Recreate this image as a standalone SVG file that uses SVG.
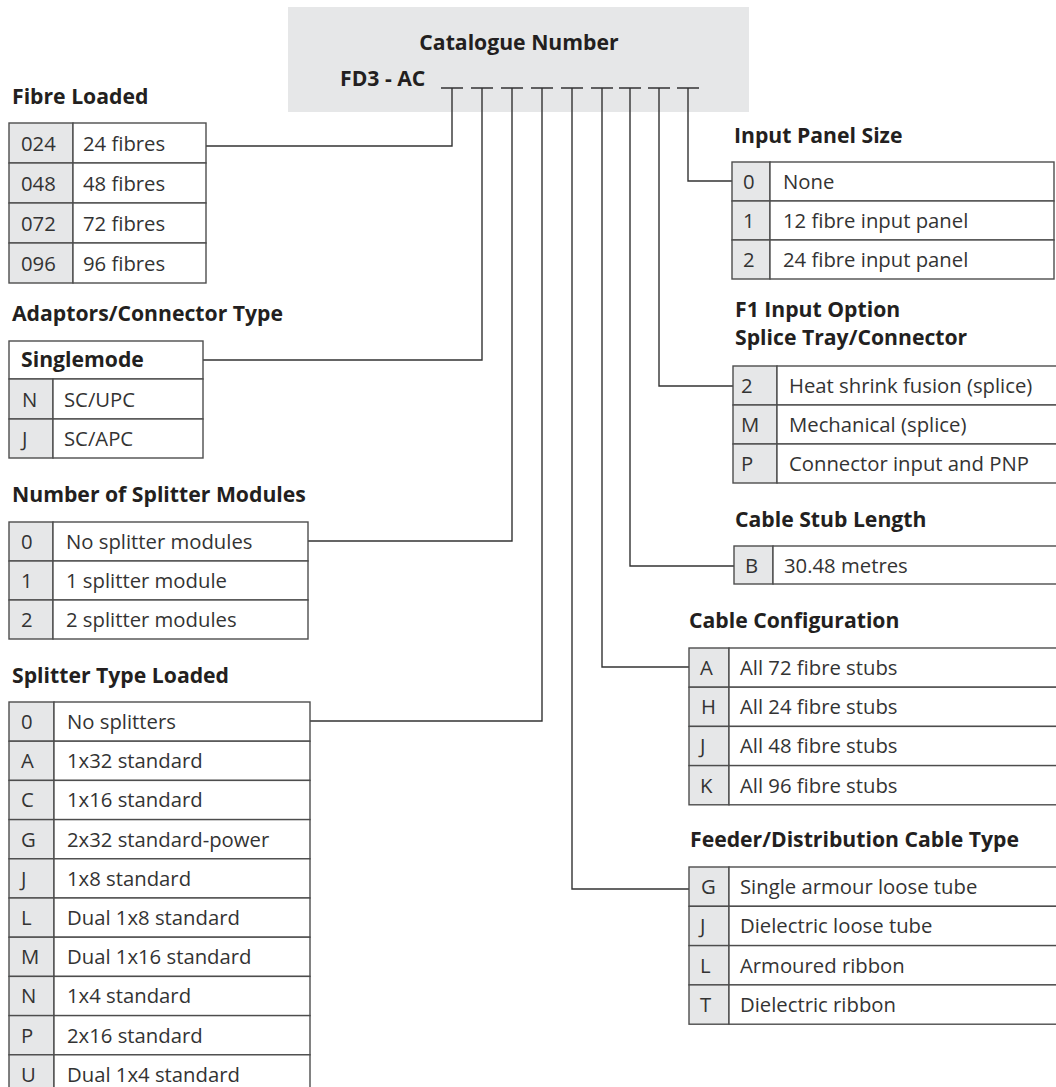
<svg xmlns="http://www.w3.org/2000/svg" width="1056" height="1087" viewBox="0 0 1056 1087">
<style>
.c{fill:#e6e7e8;stroke:#4d4d4d;stroke-width:1.4}
.w{fill:#ffffff;stroke:#4d4d4d;stroke-width:1.4}
.h{font-family:"Open Sans","Noto Sans","Liberation Sans",sans-serif;font-weight:bold;font-size:21.2px;fill:#231f20}
.t{font-family:"Open Sans","Noto Sans","Liberation Sans",sans-serif;font-size:20.3px;fill:#333333}
.ln{fill:none;stroke:#333333;stroke-width:1.4}
</style>
<rect width="1056" height="1087" fill="#ffffff"/>

<g id="catalogue">
<rect x="288" y="7" width="461" height="105" fill="#e6e7e8"/>
<text class="h" x="519" y="50" text-anchor="middle">Catalogue Number</text>
<text class="h" x="340" y="86">FD3 - AC</text>
<g class="ln">
<path d="M441,88H463M471,88H493M501,88H523M531,88H553M561,88H583M591,88H613M619,88H641M648,88H670M677,88H699"/>
</g>
</g>

<g id="connectors" class="ln">
<path d="M452,88V146H206"/>
<path d="M482,88V360H203"/>
<path d="M512,88V541H308"/>
<path d="M542,88V721H310"/>
<path d="M572,88V889H689"/>
<path d="M602,88V667H689"/>
<path d="M630,88V566H734"/>
<path d="M659,88V386H733"/>
<path d="M688,88V181H732"/>
</g>

<g id="fibre-loaded">
<text class="h" x="12" y="104">Fibre Loaded</text>
<rect class="c" x="9" y="123" width="64" height="40"/><rect class="w" x="73" y="123" width="133" height="40"/>
<rect class="c" x="9" y="163" width="64" height="40"/><rect class="w" x="73" y="163" width="133" height="40"/>
<rect class="c" x="9" y="203" width="64" height="40"/><rect class="w" x="73" y="203" width="133" height="40"/>
<rect class="c" x="9" y="243" width="64" height="40"/><rect class="w" x="73" y="243" width="133" height="40"/>
<text class="t" x="21" y="151">024</text><text class="t" x="83" y="151">24 fibres</text>
<text class="t" x="21" y="191">048</text><text class="t" x="83" y="191">48 fibres</text>
<text class="t" x="21" y="231">072</text><text class="t" x="83" y="231">72 fibres</text>
<text class="t" x="21" y="271">096</text><text class="t" x="83" y="271">96 fibres</text>
</g>

<g id="adaptors">
<text class="h" x="12" y="321">Adaptors/Connector Type</text>
<rect class="w" x="9" y="341" width="194" height="38"/>
<text class="h" x="21" y="367">Singlemode</text>
<rect class="c" x="9" y="379" width="44" height="40"/><rect class="w" x="53" y="379" width="150" height="40"/>
<rect class="c" x="9" y="419" width="44" height="39"/><rect class="w" x="53" y="419" width="150" height="39"/>
<text class="t" x="22" y="407">N</text><text class="t" x="64" y="407">SC/UPC</text>
<text class="t" x="22" y="446">J</text><text class="t" x="64" y="446">SC/APC</text>
</g>

<g id="splitter-modules">
<text class="h" x="12" y="502">Number of Splitter Modules</text>
<rect class="c" x="9" y="522" width="44" height="39"/><rect class="w" x="53" y="522" width="255" height="39"/>
<rect class="c" x="9" y="561" width="44" height="39"/><rect class="w" x="53" y="561" width="255" height="39"/>
<rect class="c" x="9" y="600" width="44" height="39"/><rect class="w" x="53" y="600" width="255" height="39"/>
<text class="t" x="21" y="549">0</text><text class="t" x="66" y="549">No splitter modules</text>
<text class="t" x="21" y="588">1</text><text class="t" x="66" y="588">1 splitter module</text>
<text class="t" x="21" y="627">2</text><text class="t" x="66" y="627">2 splitter modules</text>
</g>

<g id="splitter-type">
<text class="h" x="12" y="683">Splitter Type Loaded</text>
<rect class="c" x="9" y="702" width="45" height="39.2"/><rect class="w" x="54" y="702" width="256" height="39.2"/>
<rect class="c" x="9" y="741.2" width="45" height="39.2"/><rect class="w" x="54" y="741.2" width="256" height="39.2"/>
<rect class="c" x="9" y="780.4" width="45" height="39.2"/><rect class="w" x="54" y="780.4" width="256" height="39.2"/>
<rect class="c" x="9" y="819.6" width="45" height="39.2"/><rect class="w" x="54" y="819.6" width="256" height="39.2"/>
<rect class="c" x="9" y="858.8" width="45" height="39.2"/><rect class="w" x="54" y="858.8" width="256" height="39.2"/>
<rect class="c" x="9" y="898" width="45" height="39.2"/><rect class="w" x="54" y="898" width="256" height="39.2"/>
<rect class="c" x="9" y="937.2" width="45" height="39.2"/><rect class="w" x="54" y="937.2" width="256" height="39.2"/>
<rect class="c" x="9" y="976.4" width="45" height="39.2"/><rect class="w" x="54" y="976.4" width="256" height="39.2"/>
<rect class="c" x="9" y="1015.6" width="45" height="39.2"/><rect class="w" x="54" y="1015.6" width="256" height="39.2"/>
<rect class="c" x="9" y="1054.8" width="45" height="39.2"/><rect class="w" x="54" y="1054.8" width="256" height="39.2"/>
<text class="t" x="21" y="729">0</text><text class="t" x="67" y="729">No splitters</text>
<text class="t" x="21" y="768.2">A</text><text class="t" x="67" y="768.2">1x32 standard</text>
<text class="t" x="21" y="807.4">C</text><text class="t" x="67" y="807.4">1x16 standard</text>
<text class="t" x="21" y="846.6">G</text><text class="t" x="67" y="846.6">2x32 standard-power</text>
<text class="t" x="21" y="885.8">J</text><text class="t" x="67" y="885.8">1x8 standard</text>
<text class="t" x="21" y="925">L</text><text class="t" x="67" y="925">Dual 1x8 standard</text>
<text class="t" x="21" y="964.2">M</text><text class="t" x="67" y="964.2">Dual 1x16 standard</text>
<text class="t" x="21" y="1003.4">N</text><text class="t" x="67" y="1003.4">1x4 standard</text>
<text class="t" x="21" y="1042.6">P</text><text class="t" x="67" y="1042.6">2x16 standard</text>
<text class="t" x="21" y="1081.8">U</text><text class="t" x="67" y="1081.8">Dual 1x4 standard</text>
</g>

<g id="input-panel">
<text class="h" x="734" y="143">Input Panel Size</text>
<rect class="c" x="732" y="162" width="38" height="39"/><rect class="w" x="770" y="162" width="284" height="39"/>
<rect class="c" x="732" y="201" width="38" height="39"/><rect class="w" x="770" y="201" width="284" height="39"/>
<rect class="c" x="732" y="240" width="38" height="39"/><rect class="w" x="770" y="240" width="284" height="39"/>
<text class="t" x="743" y="189">0</text><text class="t" x="783" y="189">None</text>
<text class="t" x="743" y="228">1</text><text class="t" x="783" y="228">12 fibre input panel</text>
<text class="t" x="743" y="267">2</text><text class="t" x="783" y="267">24 fibre input panel</text>
</g>

<g id="f1-input">
<text class="h" x="735" y="317">F1 Input Option</text>
<text class="h" x="735" y="345">Splice Tray/Connector</text>
<rect class="c" x="733" y="366" width="44" height="39"/><rect class="w" x="777" y="366" width="293" height="39"/>
<rect class="c" x="733" y="405" width="44" height="39"/><rect class="w" x="777" y="405" width="293" height="39"/>
<rect class="c" x="733" y="444" width="44" height="39"/><rect class="w" x="777" y="444" width="293" height="39"/>
<text class="t" x="741" y="393">2</text><text class="t" x="789" y="393">Heat shrink fusion (splice)</text>
<text class="t" x="741" y="432">M</text><text class="t" x="789" y="432">Mechanical (splice)</text>
<text class="t" x="741" y="471">P</text><text class="t" x="789" y="471">Connector input and PNP</text>
</g>

<g id="cable-stub">
<text class="h" x="735" y="527">Cable Stub Length</text>
<rect class="c" x="734" y="546" width="39" height="38"/><rect class="w" x="773" y="546" width="297" height="38"/>
<text class="t" x="745" y="573">B</text><text class="t" x="784" y="573">30.48 metres</text>
</g>

<g id="cable-config">
<text class="h" x="689" y="628">Cable Configuration</text>
<rect class="c" x="689" y="648" width="40" height="39.2"/><rect class="w" x="729" y="648" width="341" height="39.2"/>
<rect class="c" x="689" y="687.2" width="40" height="39.2"/><rect class="w" x="729" y="687.2" width="341" height="39.2"/>
<rect class="c" x="689" y="726.4" width="40" height="39.2"/><rect class="w" x="729" y="726.4" width="341" height="39.2"/>
<rect class="c" x="689" y="765.6" width="40" height="39.2"/><rect class="w" x="729" y="765.6" width="341" height="39.2"/>
<text class="t" x="700" y="675">A</text><text class="t" x="740" y="675">All 72 fibre stubs</text>
<text class="t" x="701" y="714.2">H</text><text class="t" x="740" y="714.2">All 24 fibre stubs</text>
<text class="t" x="700" y="753.4">J</text><text class="t" x="740" y="753.4">All 48 fibre stubs</text>
<text class="t" x="700" y="792.6">K</text><text class="t" x="740" y="792.6">All 96 fibre stubs</text>
</g>

<g id="feeder-cable">
<text class="h" x="690" y="847">Feeder/Distribution Cable Type</text>
<rect class="c" x="689" y="867" width="40" height="39.3"/><rect class="w" x="729" y="867" width="341" height="39.3"/>
<rect class="c" x="689" y="906.3" width="40" height="39.3"/><rect class="w" x="729" y="906.3" width="341" height="39.3"/>
<rect class="c" x="689" y="945.6" width="40" height="39.3"/><rect class="w" x="729" y="945.6" width="341" height="39.3"/>
<rect class="c" x="689" y="984.9" width="40" height="39.3"/><rect class="w" x="729" y="984.9" width="341" height="39.3"/>
<text class="t" x="701" y="894">G</text><text class="t" x="740" y="894">Single armour loose tube</text>
<text class="t" x="700" y="933.3">J</text><text class="t" x="740" y="933.3">Dielectric loose tube</text>
<text class="t" x="700" y="972.6">L</text><text class="t" x="740" y="972.6">Armoured ribbon</text>
<text class="t" x="700" y="1011.9">T</text><text class="t" x="740" y="1011.9">Dielectric ribbon</text>
</g>
</svg>
